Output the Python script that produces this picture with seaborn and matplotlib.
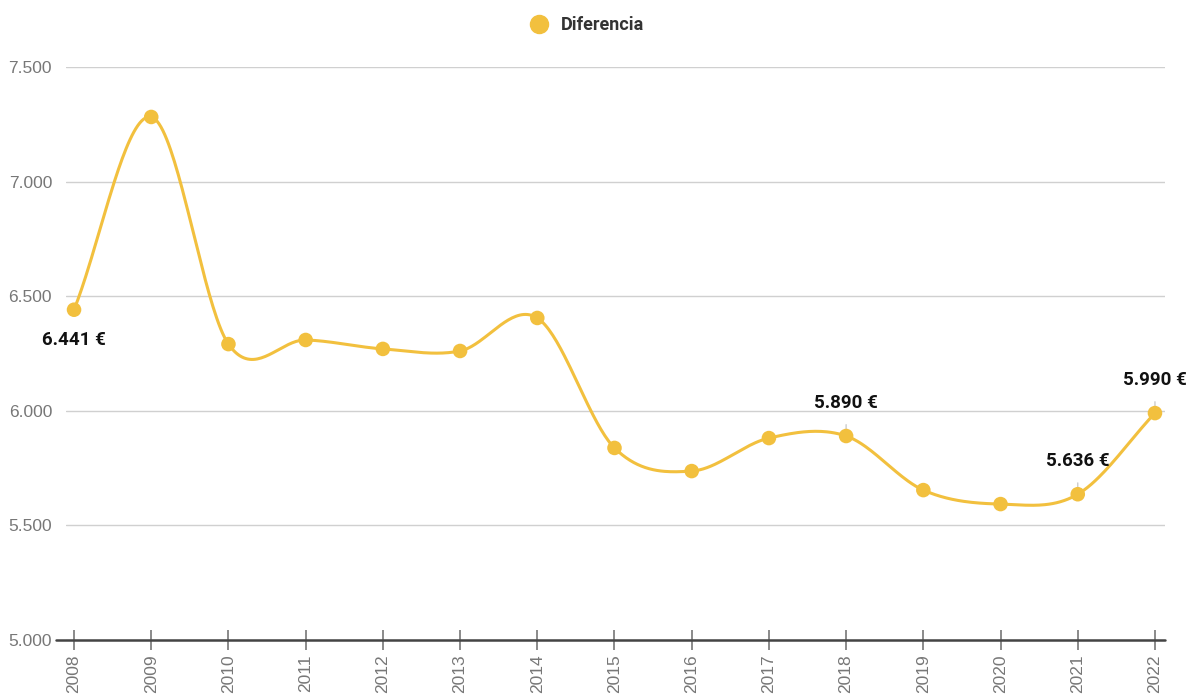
import numpy as np
import pandas as pd
import matplotlib
matplotlib.use("Agg")
import matplotlib.pyplot as plt
from matplotlib.lines import Line2D
import seaborn as sns

# data
years = [2008, 2009, 2010, 2011, 2012, 2013, 2014, 2015, 2016, 2017, 2018, 2019, 2020, 2021, 2022]
diferencia = [6441, 7282, 6291, 6309, 6270, 6261, 6405, 5838, 5737, 5881, 5890, 5654, 5593, 5636, 5990]
labelled = {2008: "below", 2018: "above", 2021: "above", 2022: "above"}
y_ticks = [5000, 5500, 6000, 6500, 7000, 7500]

color = "#F2C03E"

sns.set_theme(style="white")
plt.rcParams["font.family"] = ["Roboto", "DejaVu Sans"]


def fmt(v):
    return f"{v:,.0f}".replace(",", ".")


# smooth curve through the points (Catmull-Rom)
def catmull_rom(x, y, n=40):
    x = np.asarray(x, float)
    y = np.asarray(y, float)
    m = np.zeros_like(y)
    m[1:-1] = (y[2:] - y[:-2]) / (x[2:] - x[:-2])
    m[0] = (y[1] - y[0]) / (x[1] - x[0])
    m[-1] = (y[-1] - y[-2]) / (x[-1] - x[-2])
    xs, ys = [], []
    for i in range(len(x) - 1):
        h = x[i + 1] - x[i]
        t = np.linspace(0, 1, n, endpoint=False)
        h00 = 2 * t**3 - 3 * t**2 + 1
        h10 = t**3 - 2 * t**2 + t
        h01 = -2 * t**3 + 3 * t**2
        h11 = t**3 - t**2
        xs.append(x[i] + t * h)
        ys.append(h00 * y[i] + h10 * h * m[i] + h01 * y[i + 1] + h11 * h * m[i + 1])
    xs.append([x[-1]])
    ys.append([y[-1]])
    return np.concatenate(xs), np.concatenate(ys)


df = pd.DataFrame({"year": years, "value": diferencia})
sx, sy = catmull_rom(years, diferencia)
smooth = pd.DataFrame({"year": sx, "value": sy})

fig = plt.figure(figsize=(11.89, 6.98), dpi=100)
ax = fig.add_axes([66 / 1189, 1 - 640 / 698, (1165 - 66) / 1189, (640 - 67) / 698])

sns.lineplot(data=smooth, x="year", y="value", color=color, linewidth=2.2, ax=ax)
sns.scatterplot(data=df, x="year", y="value", color=color, s=110, edgecolor="none",
                ax=ax, zorder=5, clip_on=False)

ax.set_xlim(2007.896, 2022.13)
ax.set_ylim(5000, 7500)
ax.set_yticks(y_ticks)
ax.set_yticklabels([fmt(v) for v in y_ticks], family="Liberation Sans")
ax.set_xticks(years)
ax.set_xticklabels([str(y) for y in years], rotation=90, family="Liberation Sans")
ax.grid(axis="y", color="#d0d0d0", linewidth=1)
ax.set_axisbelow(True)
ax.set_xlabel("")
ax.set_ylabel("")

for side in ["top", "right", "left", "bottom"]:
    ax.spines[side].set_visible(False)
# baseline, reaching a little left of the plot like the reference
ax.plot([-0.009, 1], [0, 0], transform=ax.transAxes, color="#444444", lw=1.8,
        clip_on=False, zorder=3)

ax.tick_params(axis="x", bottom=True, direction="inout", length=15, width=1.2,
               color="#777777", labelsize=12.5, labelcolor="#777777", pad=3)
ax.tick_params(axis="y", left=False, length=0, labelsize=12.5, labelcolor="#777777", pad=10)

for yr, v in zip(years, diferencia):
    if yr not in labelled:
        continue
    if labelled[yr] == "below":
        ax.annotate(f"{fmt(v)} €", (yr, v), xytext=(0, -22), textcoords="offset points",
                    ha="center", va="center", fontsize=13.5, fontweight="bold", color="#111111")
    else:
        ax.annotate(f"{fmt(v)} €", (yr, v), xytext=(0, 24), textcoords="offset points",
                    ha="center", va="center", fontsize=13.5, fontweight="bold", color="#111111",
                    arrowprops=dict(arrowstyle="-", color="#cccccc", lw=1,
                                    shrinkA=7, shrinkB=2))

handle = Line2D([], [], marker="o", linestyle="none", markersize=13,
                markerfacecolor=color, markeredgecolor=color)
fig.legend([handle], ["Diferencia"], loc="center", bbox_to_anchor=(0.49, 1 - 25 / 698),
           frameon=False, prop={"weight": "bold", "size": 13}, labelcolor="#333333",
           handletextpad=0.25)

fig.savefig("out.png", dpi=100)
